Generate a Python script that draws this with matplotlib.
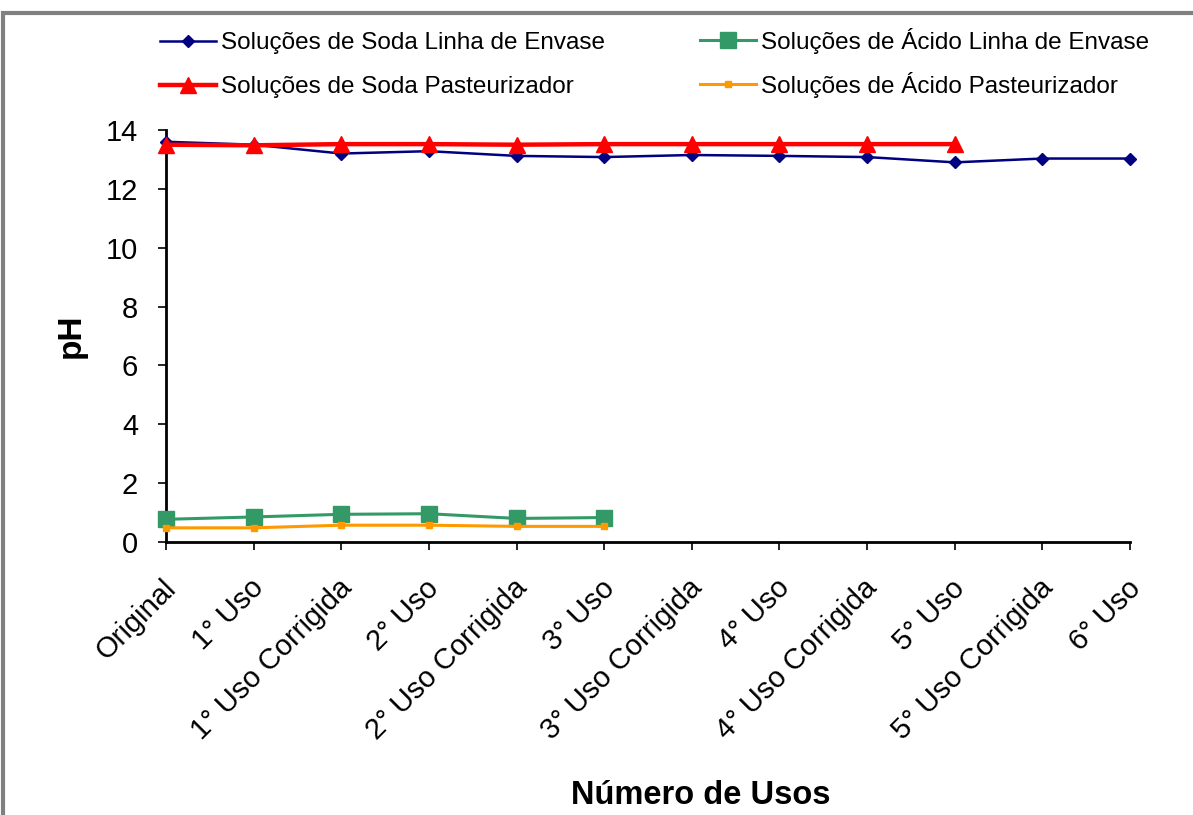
import matplotlib
matplotlib.use("Agg")
import matplotlib.pyplot as plt
from matplotlib.patches import Rectangle
from matplotlib.transforms import ScaledTranslation

plt.rcParams['font.family'] = ['Liberation Sans', 'DejaVu Sans']

categories = ["Original", "1° Uso", "1° Uso Corrigida", "2° Uso", "2° Uso Corrigida",
              "3° Uso", "3° Uso Corrigida", "4° Uso", "4° Uso Corrigida", "5° Uso",
              "5° Uso Corrigida", "6° Uso"]

soda_envase = [13.6, 13.5, 13.2, 13.28, 13.12, 13.08, 13.15, 13.12, 13.08, 12.9, 13.03, 13.03]
soda_pasteur = [13.5, 13.48, 13.52, 13.52, 13.5, 13.52, 13.52, 13.52, 13.52, 13.52]
acido_envase = [0.77, 0.85, 0.94, 0.96, 0.8, 0.83]
acido_pasteur = [0.48, 0.48, 0.57, 0.57, 0.53, 0.53]

labels = ["Soluções de Soda Linha de Envase", "Soluções de Ácido Linha de Envase",
          "Soluções de Soda Pasteurizador", "Soluções de Ácido Pasteurizador"]

fig = plt.figure(figsize=(11.93, 8.15), dpi=100)
ax = fig.add_axes([0.1391, 0.335, 0.8081, 0.5055])

x = list(range(len(categories)))
l1, = ax.plot(x[:len(soda_envase)], soda_envase, color='#000080', lw=1.8, marker='D', ms=6.5, zorder=3)
l3, = ax.plot(x[:len(soda_pasteur)], soda_pasteur, color='#FF0000', lw=3.2, marker='^', ms=11, zorder=4)
l2, = ax.plot(x[:len(acido_envase)], acido_envase, color='#339966', lw=2.2, marker='s', ms=11, zorder=3)
l4, = ax.plot(x[:len(acido_pasteur)], acido_pasteur, color='#FF9900', lw=2.2, marker='s', ms=4, zorder=3)

ax.set_xlim(0, len(categories) - 1)
ax.set_ylim(0, 14)
ax.set_yticks(range(0, 15, 2))
ax.set_xticks(x)
ax.set_xticklabels(categories, rotation=45, ha='right', rotation_mode='anchor', fontsize=21)
ax.tick_params(axis='y', labelsize=21, direction='out', length=6, width=1.2, pad=14)
ax.tick_params(axis='x', direction='out', length=6, width=1.2, pad=17)
shift = ScaledTranslation(-4 / 100, 0, fig.dpi_scale_trans)
for lab in ax.get_xticklabels():
    lab.set_transform(lab.get_transform() + shift)
for s in ['top', 'right']:
    ax.spines[s].set_visible(False)
for s in ['left', 'bottom']:
    ax.spines[s].set_linewidth(2)
for m in [l1, l2, l3, l4]:
    m.set_clip_on(False)

ax.set_ylabel("pH", fontsize=24, fontweight='bold')
ax.yaxis.set_label_coords(-0.082, 0.5)
fig.text(0.587, 0.024, "Número de Usos", fontsize=23.5, fontweight='bold', ha='center', va='center')

common = dict(frameon=False, fontsize=17.5, loc='upper left', borderpad=0, borderaxespad=0,
              handlelength=2.3, handletextpad=0.2)
leg1 = fig.legend([l1, l3], [labels[0], labels[2]],
                  bbox_to_anchor=(160 / 1193, 1 - 32 / 815), labelspacing=0.92, **common)
leg2 = fig.legend([l2, l4], [labels[1], labels[3]],
                  bbox_to_anchor=(700 / 1193, 1 - 28 / 815), labelspacing=0.72, **common)

fig.patches.append(Rectangle((3 / 1193, -0.05), 1.2, 1 - 13 / 815 + 0.05, transform=fig.transFigure,
                             fill=False, edgecolor='#808080', lw=3))

fig.savefig("out.png", dpi=100)
